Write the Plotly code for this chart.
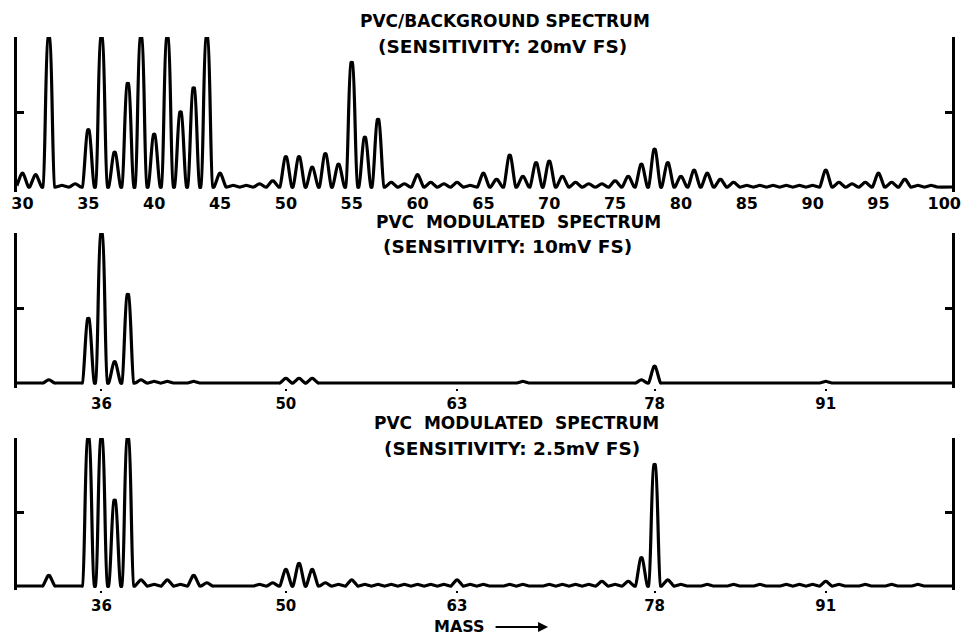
import plotly.graph_objects as go

# ---------------- data ----------------
MASSES = list(range(30, 100))

# PVC / background spectrum, 20 mV full scale (fraction of full scale)
BG_HEIGHTS = [
    0.09, 0.08, 1.00, 0.01, 0.02, 0.38, 1.00, 0.23, 0.69, 1.00,   # 30-39
    0.35, 1.00, 0.50, 0.66, 1.00, 0.09, 0.01, 0.01, 0.02, 0.04,   # 40-49
    0.20, 0.20, 0.13, 0.22, 0.15, 0.83, 0.33, 0.45, 0.03, 0.02,   # 50-59
    0.08, 0.03, 0.02, 0.03, 0.01, 0.09, 0.05, 0.21, 0.07, 0.16,   # 60-69
    0.17, 0.07, 0.03, 0.02, 0.02, 0.04, 0.07, 0.15, 0.25, 0.16,   # 70-79
    0.07, 0.11, 0.09, 0.05, 0.03, 0.01, 0.01, 0.01, 0.01, 0.01,   # 80-89
    0.01, 0.11, 0.03, 0.02, 0.03, 0.09, 0.03, 0.05, 0.01, 0.01,   # 90-99
]

# PVC modulated spectrum, 10 mV full scale
MOD10_HEIGHTS = [
    0.00, 0.00, 0.02, 0.00, 0.00, 0.43, 1.00, 0.14, 0.59, 0.02,   # 30-39
    0.01, 0.01, 0.00, 0.01, 0.00, 0.00, 0.00, 0.00, 0.00, 0.00,   # 40-49
    0.03, 0.03, 0.03, 0.00, 0.00, 0.00, 0.00, 0.00, 0.00, 0.00,   # 50-59
    0.00, 0.00, 0.00, 0.00, 0.00, 0.00, 0.00, 0.00, 0.01, 0.00,   # 60-69
    0.00, 0.00, 0.00, 0.00, 0.00, 0.00, 0.00, 0.02, 0.11, 0.00,   # 70-79
    0.00, 0.00, 0.00, 0.00, 0.00, 0.00, 0.00, 0.00, 0.00, 0.00,   # 80-89
    0.00, 0.01, 0.00, 0.00, 0.00, 0.00, 0.00, 0.00, 0.00, 0.00,   # 90-99
]

# PVC modulated spectrum, 2.5 mV full scale
MOD25_HEIGHTS = [
    0.00, 0.00, 0.07, 0.00, 0.00, 1.00, 1.00, 0.58, 1.00, 0.04,   # 30-39
    0.01, 0.04, 0.01, 0.07, 0.02, 0.00, 0.00, 0.00, 0.01, 0.02,   # 40-49
    0.11, 0.15, 0.11, 0.02, 0.01, 0.04, 0.01, 0.01, 0.01, 0.01,   # 50-59
    0.01, 0.01, 0.01, 0.04, 0.01, 0.01, 0.00, 0.01, 0.01, 0.00,   # 60-69
    0.01, 0.01, 0.01, 0.01, 0.03, 0.01, 0.03, 0.19, 0.82, 0.04,   # 70-79
    0.01, 0.00, 0.01, 0.00, 0.01, 0.00, 0.01, 0.00, 0.01, 0.01,   # 80-89
    0.01, 0.03, 0.01, 0.00, 0.01, 0.00, 0.01, 0.00, 0.01, 0.00,   # 90-99
]

TOP_TICKS = [30, 35, 40, 45, 50, 55, 60, 65, 70, 75, 80, 85, 90, 95, 100]
TOP_TICK_LABELS = [str(t) for t in TOP_TICKS]
MOD_TICKS = [36, 50, 63, 78, 91]
MOD_TICK_LABELS = ["36", "50", "63", "78", "91"]

TITLES = ["PVC/BACKGROUND SPECTRUM", "PVC  MODULATED  SPECTRUM", "PVC  MODULATED  SPECTRUM"]
SUBTITLES = ["(SENSITIVITY: 20mV FS)", "(SENSITIVITY: 10mV FS)", "(SENSITIVITY: 2.5mV FS)"]
X_LABEL = "MASS"

SCAN_START, SCAN_END = 29.57, 100.6     # chart paper limits (mass units)
PEAK_HALF_BASE = 0.45
PEAK_HALF_TOP = 0.06

# ---------------- layout geometry (pixels) ----------------
W, H = 975, 635
X_LEFT_PX, X_RIGHT_PX = 12, 961
PANELS = [  # (baseline px, full-scale px)
    (187, 37),
    (383, 233),
    (586, 438),
]
Y_MIN = -0.03
FONT = "DejaVu Sans"


def trace_xy(heights):
    xs, ys = [SCAN_START], [0.0]
    for m, h in zip(MASSES, heights):
        xs += [m - PEAK_HALF_BASE, m - PEAK_HALF_TOP, m + PEAK_HALF_TOP, m + PEAK_HALF_BASE]
        ys += [0.0, h, h, 0.0]
    xs.append(SCAN_END)
    ys.append(0.0)
    return xs, ys


fig = go.Figure()
series = [BG_HEIGHTS, MOD10_HEIGHTS, MOD25_HEIGHTS]
for i, hts in enumerate(series):
    xs, ys = trace_xy(hts)
    sfx = "" if i == 0 else str(i + 1)
    fig.add_trace(go.Scatter(x=xs, y=ys, mode="lines",
                             line=dict(color="black", width=3.2, shape="spline", smoothing=0.5),
                             xaxis="x" + sfx, yaxis="y" + sfx,
                             hoverinfo="skip", showlegend=False))

layout = dict(
    width=W, height=H, autosize=False,
    margin=dict(l=0, r=0, t=0, b=0),
    paper_bgcolor="white", plot_bgcolor="white",
    showlegend=False,
)

xdom = [X_LEFT_PX / W, X_RIGHT_PX / W]
annotations = []
for i, (base, top) in enumerate(PANELS):
    sfx = "" if i == 0 else str(i + 1)
    bottom_px = base + (-Y_MIN) * (base - top)
    ydom = [1 - bottom_px / H, 1 - top / H]
    if i == 0:
        tv, tt, tk, fs = TOP_TICKS, [f"<b>{t}</b>" for t in TOP_TICK_LABELS], "", 16
    else:
        tv, tt, tk, fs = MOD_TICKS, [f"<b>{t}</b>" for t in MOD_TICK_LABELS], "outside", 15
    layout["xaxis" + sfx] = dict(
        domain=xdom, range=[SCAN_START, SCAN_END], anchor="y" + sfx,
        showgrid=False, zeroline=False, showline=False,
        tickmode="array", tickvals=tv, ticktext=tt,
        ticks=tk, ticklen=2, tickwidth=2, tickcolor="black",
        tickfont=dict(family=FONT, size=fs, color="black"),
        fixedrange=True,
    )
    layout["yaxis" + sfx] = dict(
        domain=ydom, range=[Y_MIN, 1.0], anchor="x" + sfx,
        showgrid=False, zeroline=False,
        showline=True, linecolor="black", linewidth=3, mirror="ticks",
        ticks="inside", ticklen=7, tickwidth=3, tickcolor="black",
        tickmode="array", tickvals=[0.5, 0.997], showticklabels=False,
        fixedrange=True,
    )

TITLE_POS = [((507, 21), (505, 47)), ((521, 222), (510, 246)), ((519, 423), (514, 448))]
for (t, s, ((tx, ty), (sx, sy))) in zip(TITLES, SUBTITLES, TITLE_POS):
    annotations.append(dict(text=f"<b>{t}</b>", x=tx / W, y=1 - ty / H, xref="paper", yref="paper",
                            xanchor="center", yanchor="middle", showarrow=False,
                            font=dict(family=FONT, size=17, color="black")))
    annotations.append(dict(text=f"<b>{s}</b>", x=sx / W, y=1 - sy / H, xref="paper", yref="paper",
                            xanchor="center", yanchor="middle", showarrow=False,
                            font=dict(family=FONT, size=18.5, color="black")))

annotations.append(dict(text=f"<b>{X_LABEL}</b>", x=461 / W, y=1 - 626 / H, xref="paper", yref="paper",
                        xanchor="center", yanchor="middle", showarrow=False,
                        font=dict(family=FONT, size=16, color="black")))
annotations.append(dict(text="", x=551 / W, y=1 - 627 / H, xref="paper", yref="paper",
                        showarrow=True, ax=-54, ay=0, arrowhead=2, arrowwidth=2,
                        arrowsize=1, arrowcolor="black"))
layout["annotations"] = annotations

fig.update_layout(**layout)
fig.write_html("out.html", config={"displayModeBar": False},
               post_script="document.body.style.margin='0';document.body.style.overflow='hidden';")
